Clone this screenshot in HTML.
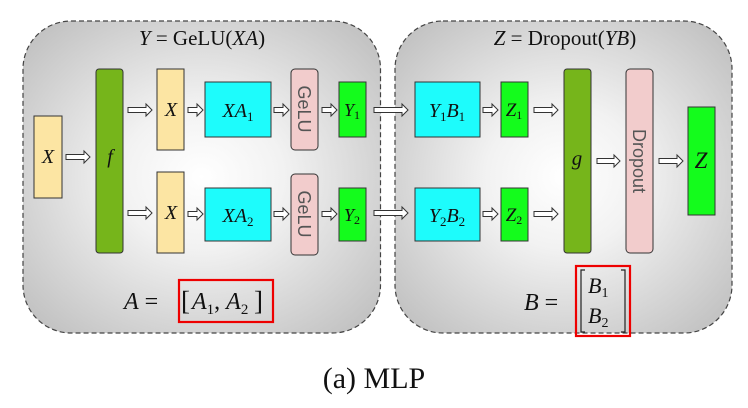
<!DOCTYPE html>
<html><head><meta charset="utf-8"><style>
html,body{margin:0;padding:0;background:#fff;width:748px;height:408px;overflow:hidden}
text{font-family:"Liberation Serif",serif;fill:#111}
</style></head><body>
<svg width="748" height="408" viewBox="0 0 748 408" xmlns="http://www.w3.org/2000/svg">
<defs>
<radialGradient id="g" cx="50%" cy="50%" r="65%">
<stop offset="0" stop-color="#ffffff"/><stop offset="0.35" stop-color="#f2f2f2"/><stop offset="1" stop-color="#c2c2c2"/>
</radialGradient>
</defs>
<rect x="23" y="21" width="357.5" height="312" rx="48" fill="url(#g)" stroke="#444" stroke-width="1.2" stroke-dasharray="5,3"/>
<rect x="395" y="21" width="337" height="312" rx="48" fill="url(#g)" stroke="#444" stroke-width="1.2" stroke-dasharray="5,3"/>
<text x="202" y="45" font-size="21" text-anchor="middle"><tspan font-style="italic">Y</tspan> = GeLU(<tspan font-style="italic">XA</tspan>)</text>
<text x="565" y="45" font-size="21" text-anchor="middle"><tspan font-style="italic">Z</tspan> = Dropout(<tspan font-style="italic">YB</tspan>)</text>
<g stroke="#333" stroke-width="1">
<rect x="34" y="116" width="28" height="82" fill="#fce5a3"/>
<rect x="96" y="69" width="27" height="184" rx="3" fill="#76b51b"/>
<rect x="157" y="69" width="27" height="81" fill="#fce5a3"/>
<rect x="157" y="172" width="27" height="81" fill="#fce5a3"/>
<rect x="205" y="82" width="66" height="55" fill="#1dfcfc"/>
<rect x="205" y="188" width="66" height="53" fill="#1dfcfc"/>
<rect x="291" y="69" width="27" height="81" rx="4" fill="#f2cccc"/>
<rect x="291" y="174" width="27" height="81" rx="4" fill="#f2cccc"/>
<rect x="339" y="82" width="27" height="55" fill="#14fc1c"/>
<rect x="339" y="188" width="27" height="53" fill="#14fc1c"/>
<rect x="415" y="82" width="65" height="55" fill="#1dfcfc"/>
<rect x="415" y="188" width="65" height="53" fill="#1dfcfc"/>
<rect x="501" y="82" width="27" height="55" fill="#14fc1c"/>
<rect x="501" y="188" width="27" height="53" fill="#14fc1c"/>
<rect x="564" y="69" width="27" height="184" rx="3" fill="#76b51b"/>
<rect x="626" y="69" width="27" height="184" rx="4" fill="#f2cccc"/>
<rect x="688" y="107" width="27" height="108" fill="#14fc1c"/>
</g>
<g stroke="#333" stroke-width="1" fill="#fff">
<polygon points="66,154.5 84,154.5 84,151 90,157 84,163 84,159.5 66,159.5"/>
<polygon points="128,107.5 146,107.5 146,104 152,110 146,116 146,112.5 128,112.5"/>
<polygon points="128,210.5 146,210.5 146,207 152,213 146,219 146,215.5 128,215.5"/>
<polygon points="188,107.5 197,107.5 197,104 203,110 197,116 197,112.5 188,112.5"/>
<polygon points="188,211.5 197,211.5 197,208 203,214 197,220 197,216.5 188,216.5"/>
<polygon points="274,107.5 283,107.5 283,104 289,110 283,116 283,112.5 274,112.5"/>
<polygon points="274,211.5 283,211.5 283,208 289,214 283,220 283,216.5 274,216.5"/>
<polygon points="322,107.5 331,107.5 331,104 337,110 331,116 331,112.5 322,112.5"/>
<polygon points="322,211.5 331,211.5 331,208 337,214 331,220 331,216.5 322,216.5"/>
<polygon points="374,107.5 402,107.5 402,104 408,110 402,116 402,112.5 374,112.5"/>
<polygon points="374,210.5 402,210.5 402,207 408,213 402,219 402,215.5 374,215.5"/>
<polygon points="483,107.5 492,107.5 492,104 498,110 492,116 492,112.5 483,112.5"/>
<polygon points="483,211.5 492,211.5 492,208 498,214 492,220 492,216.5 483,216.5"/>
<polygon points="534,107.5 552,107.5 552,104 558,110 552,116 552,112.5 534,112.5"/>
<polygon points="534,211.5 552,211.5 552,208 558,214 552,220 552,216.5 534,216.5"/>
<polygon points="597,158.5 614,158.5 614,155 620,161 614,167 614,163.5 597,163.5"/>
<polygon points="659,158.5 677,158.5 677,155 683,161 677,167 677,163.5 659,163.5"/>
</g>
<g font-style="italic" text-anchor="middle">
<text x="48" y="163" font-size="20">X</text>
<text x="110" y="163" font-size="20">f</text>
<text x="171" y="116" font-size="20">X</text>
<text x="171" y="219" font-size="20">X</text>
<text x="238" y="117" font-size="20">XA<tspan font-size="13" font-style="normal" dy="4">1</tspan></text>
<text x="238" y="222" font-size="20">XA<tspan font-size="13" font-style="normal" dy="4">2</tspan></text>
<text x="352" y="116" font-size="18">Y<tspan font-size="12" font-style="normal" dy="3">1</tspan></text>
<text x="352" y="221" font-size="18">Y<tspan font-size="12" font-style="normal" dy="3">2</tspan></text>
<text x="447" y="117" font-size="20">Y<tspan font-size="13" font-style="normal" dy="4">1</tspan><tspan dy="-4">B</tspan><tspan font-size="13" font-style="normal" dy="4">1</tspan></text>
<text x="447" y="222" font-size="20">Y<tspan font-size="13" font-style="normal" dy="4">2</tspan><tspan dy="-4">B</tspan><tspan font-size="13" font-style="normal" dy="4">2</tspan></text>
<text x="514" y="116" font-size="19">Z<tspan font-size="12" font-style="normal" dy="3">1</tspan></text>
<text x="514" y="221" font-size="19">Z<tspan font-size="12" font-style="normal" dy="3">2</tspan></text>
<text x="577" y="165" font-size="21">g</text>
<text x="701" y="168" font-size="23">Z</text>
</g>
<g font-size="18">
<text transform="translate(298,109) rotate(90)" text-anchor="middle" style="font-family:'Liberation Sans',sans-serif;fill:#555">GeLU</text>
<text transform="translate(298,214) rotate(90)" text-anchor="middle" style="font-family:'Liberation Sans',sans-serif;fill:#555">GeLU</text>
<text transform="translate(633,161) rotate(90)" text-anchor="middle" style="font-family:'Liberation Sans',sans-serif;fill:#555">Dropout</text>
</g>
<rect x="179" y="280" width="94" height="42" fill="none" stroke="#e00" stroke-width="2.2"/>
<rect x="576" y="266" width="54" height="70" fill="none" stroke="#e00" stroke-width="2.2"/>
<text x="124" y="309" font-size="24"><tspan font-style="italic">A</tspan> =</text>
<text x="181" y="310" font-size="27">[</text>
<text x="192" y="309" font-size="24" font-style="italic">A<tspan font-size="15" font-style="normal" dy="5">1</tspan><tspan font-style="normal" dy="-5">, </tspan>A<tspan font-size="15" font-style="normal" dy="5">2</tspan></text>
<text x="254" y="310" font-size="27">]</text>
<text x="524" y="310" font-size="24"><tspan font-style="italic">B</tspan> =</text>
<path d="M585,270 h-4 v62 h4 M621,270 h4 v62 h-4" fill="none" stroke="#222" stroke-width="1.2"/>
<text x="588" y="293" font-size="22" font-style="italic">B<tspan font-size="14" font-style="normal" dy="4">1</tspan></text>
<text x="588" y="323" font-size="22" font-style="italic">B<tspan font-size="14" font-style="normal" dy="4">2</tspan></text>
<text x="374" y="388" font-size="30" text-anchor="middle">(a) MLP</text>
</svg>
</body></html>
